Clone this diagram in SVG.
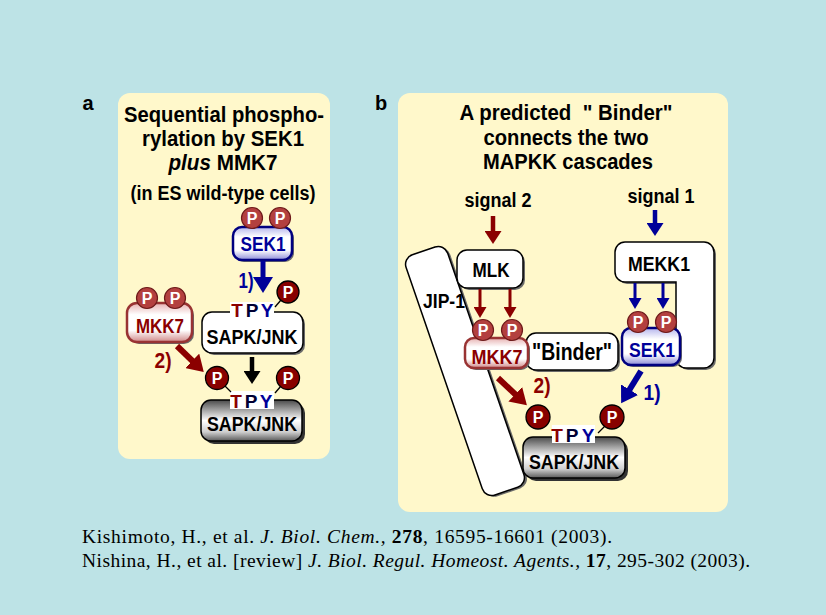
<svg xmlns="http://www.w3.org/2000/svg" width="826" height="615" viewBox="0 0 826 615">
<style>
.t{font-family:"Liberation Sans",Arial,sans-serif;font-weight:bold;text-anchor:middle}
.ttl{font-size:21.5px;fill:#000}
.lbl{font-size:21px}
.cit{font-family:"Liberation Serif","Times New Roman",serif;font-size:19.5px;fill:#000}
.panel{fill:#FFF8CB}
.wbox{fill:#fff;stroke:#000;stroke-width:1.5}
.shd{fill:#6a6a6a}
.pl{fill:#B3403F;stroke:#6e1a1a;stroke-width:1.2}
.pd{fill:#880000;stroke:#000;stroke-width:1.3}
.pt{font-family:"Liberation Sans",Arial,sans-serif;font-weight:bold;font-size:16px;fill:#fff;text-anchor:middle}
.tpy{font-family:"Liberation Sans",Arial,sans-serif;font-weight:bold;font-size:19px;text-anchor:middle}
.red{fill:#8B0000}
.blu{fill:#000099}
.ar{fill:none;stroke:#8B0000}
.ab{fill:none;stroke:#000099}
.ak{fill:none;stroke:#000}
.lnk{stroke:#000;stroke-width:1.3}
</style>
<defs>
<linearGradient id="gGray" x1="0" y1="0" x2="0" y2="1">
<stop offset="0" stop-color="#4a4a4a"/><stop offset="0.22" stop-color="#9a9a9a"/><stop offset="0.5" stop-color="#ffffff"/><stop offset="0.78" stop-color="#cfcfcf"/><stop offset="1" stop-color="#5a5a5a"/>
</linearGradient>
<linearGradient id="gBlue" x1="0" y1="0" x2="0" y2="1">
<stop offset="0" stop-color="#b4b4ec"/><stop offset="0.3" stop-color="#ffffff"/><stop offset="0.7" stop-color="#ffffff"/><stop offset="1" stop-color="#8c8cd8"/>
</linearGradient>
<linearGradient id="gRed" x1="0" y1="0" x2="0" y2="1">
<stop offset="0" stop-color="#e6b0b0"/><stop offset="0.3" stop-color="#ffffff"/><stop offset="0.7" stop-color="#ffffff"/><stop offset="1" stop-color="#d08888"/>
</linearGradient>
<marker id="mbR" markerUnits="userSpaceOnUse" markerWidth="16" markerHeight="20" refX="1" refY="10" orient="auto" viewBox="0 0 16 20"><path d="M0,0 L16,10 L0,20 z" fill="#8B0000"/></marker>
<marker id="mbB" markerUnits="userSpaceOnUse" markerWidth="16" markerHeight="20" refX="1" refY="10" orient="auto" viewBox="0 0 16 20"><path d="M0,0 L16,10 L0,20 z" fill="#000099"/></marker>
<marker id="mmK" markerUnits="userSpaceOnUse" markerWidth="13" markerHeight="17" refX="1" refY="8.5" orient="auto" viewBox="0 0 13 17"><path d="M0,0 L13,8.5 L0,17 z" fill="#000"/></marker>
<marker id="mmR" markerUnits="userSpaceOnUse" markerWidth="13" markerHeight="17" refX="1" refY="8.5" orient="auto" viewBox="0 0 13 17"><path d="M0,0 L13,8.5 L0,17 z" fill="#8B0000"/></marker>
<marker id="mmB" markerUnits="userSpaceOnUse" markerWidth="13" markerHeight="17" refX="1" refY="8.5" orient="auto" viewBox="0 0 13 17"><path d="M0,0 L13,8.5 L0,17 z" fill="#000099"/></marker>
<marker id="msR" markerUnits="userSpaceOnUse" markerWidth="11" markerHeight="13" refX="1" refY="6.5" orient="auto" viewBox="0 0 11 13"><path d="M0,0 L11,6.5 L0,13 z" fill="#8B0000"/></marker>
<marker id="msB" markerUnits="userSpaceOnUse" markerWidth="11" markerHeight="13" refX="1" refY="6.5" orient="auto" viewBox="0 0 11 13"><path d="M0,0 L11,6.5 L0,13 z" fill="#000099"/></marker>
</defs>

<rect width="826" height="615" fill="#BDE3E6"/>

<!-- Panel a -->
<g id="panel-a">
<rect class="panel" x="118" y="93" width="212" height="366" rx="12"/>
<text class="t" x="88" y="110" font-size="20">a</text>
<text class="t ttl" x="224" y="122" textLength="200" lengthAdjust="spacingAndGlyphs">Sequential phospho-</text>
<text class="t ttl" x="223" y="146" textLength="162" lengthAdjust="spacingAndGlyphs">rylation by SEK1</text>
<text class="t ttl" x="223" y="170" textLength="109" lengthAdjust="spacingAndGlyphs"><tspan font-style="italic">plus</tspan> MMK7</text>
<text class="t" x="223" y="200" font-size="20" textLength="185" lengthAdjust="spacingAndGlyphs">(in ES wild-type cells)</text>
</g>

<g id="a-SEK1">
<rect class="shd" x="235" y="229" width="59" height="33" rx="9"/>
<rect x="233" y="227" width="59" height="33" rx="9" fill="url(#gBlue)" stroke="#000080" stroke-width="2.5"/>
<circle class="pl" cx="252" cy="218" r="10.5"/><text class="pt" x="252" y="223.5">P</text>
<circle class="pl" cx="280" cy="218" r="10.5"/><text class="pt" x="280" y="223.5">P</text>
<text class="t lbl blu" x="263" y="251" textLength="45" lengthAdjust="spacingAndGlyphs">SEK1</text>
</g>

<g id="a-MKK7">
<rect class="shd" x="129" y="305" width="65" height="39" rx="10"/>
<rect x="127" y="303" width="65" height="39" rx="10" fill="url(#gRed)" stroke="#993333" stroke-width="2.5"/>
<circle class="pl" cx="147" cy="298" r="10.5"/><text class="pt" x="147" y="303.5">P</text>
<circle class="pl" cx="175" cy="298" r="10.5"/><text class="pt" x="175" y="303.5">P</text>
<text class="t lbl red" x="160" y="333" textLength="48" lengthAdjust="spacingAndGlyphs">MKK7</text>
</g>

<g id="a-SAPK-JNK">
<rect class="shd" x="204" y="314" width="101" height="41" rx="10"/>
<rect class="wbox" x="202" y="312" width="101" height="41" rx="10"/>
<rect x="230" y="302" width="44" height="17" fill="#fff"/>
<text class="tpy" y="317"><tspan class="red" x="237">T</tspan><tspan fill="#000033" x="252">P</tspan><tspan class="blu" x="267">Y</tspan></text>
<text class="t lbl" x="252" y="344" textLength="91" lengthAdjust="spacingAndGlyphs">SAPK/JNK</text>
<circle class="pd" cx="288" cy="292" r="11"/><text class="pt" x="288" y="297.5">P</text>
</g>

<g id="a-SAPK-JNK-P">
<rect x="204" y="403" width="101" height="41" rx="10" fill="#333"/>
<rect x="201" y="400" width="101" height="41" rx="10" fill="url(#gGray)" stroke="#000" stroke-width="1.5"/>
<rect x="230" y="391" width="44" height="18" fill="#fff"/>
<text class="tpy" y="408"><tspan class="red" x="236">T</tspan><tspan fill="#000033" x="251">P</tspan><tspan class="blu" x="266">Y</tspan></text>
<text class="t lbl" x="252" y="431" textLength="90" lengthAdjust="spacingAndGlyphs">SAPK/JNK</text>
<circle class="pd" cx="217" cy="378" r="11.5"/><text class="pt" x="217" y="383.5">P</text>
<circle class="pd" cx="288" cy="378" r="11.5"/><text class="pt" x="288" y="383.5">P</text>
</g>

<!-- Panel b -->
<g id="panel-b">
<rect class="panel" x="398" y="93" width="330" height="419" rx="12"/>
<text class="t" x="381" y="110" font-size="20">b</text>
<text class="t ttl" x="566" y="120" textLength="213" lengthAdjust="spacingAndGlyphs" style="white-space:pre">A predicted  " Binder"</text>
<text class="t ttl" x="566" y="145" textLength="165" lengthAdjust="spacingAndGlyphs">connects the two</text>
<text class="t ttl" x="568" y="169" textLength="170" lengthAdjust="spacingAndGlyphs">MAPKK cascades</text>
<text class="t" x="498" y="207" font-size="20" textLength="67" lengthAdjust="spacingAndGlyphs">signal 2</text>
<text class="t" x="661" y="203" font-size="20" textLength="67" lengthAdjust="spacingAndGlyphs">signal 1</text>
</g>

<g id="b-JIP-1">
<g transform="translate(465,371) rotate(-19)">
<rect class="shd" x="-20" y="-125" width="44" height="254" rx="10"/>
<rect class="wbox" x="-22" y="-127" width="44" height="254" rx="10"/>
</g>
<text class="t lbl" x="444" y="308" textLength="42" lengthAdjust="spacingAndGlyphs">JIP-1</text>
</g>

<g id="b-MLK">
<rect class="shd" x="459" y="252" width="66" height="38" rx="10"/>
<rect class="wbox" x="457" y="250" width="66" height="38" rx="10"/>
<text class="t lbl" x="491" y="277" textLength="37" lengthAdjust="spacingAndGlyphs">MLK</text>
</g>

<g id="b-MEKK1">
<path class="shd" transform="translate(2,2)" d="M625,242 H704 A10,10 0 0 1 714,252 V358 A10,10 0 0 1 704,368 H686 A10,10 0 0 1 676,358 V282 H625 A10,10 0 0 1 615,272 V252 A10,10 0 0 1 625,242 Z"/>
<path class="wbox" d="M625,242 H704 A10,10 0 0 1 714,252 V358 A10,10 0 0 1 704,368 H686 A10,10 0 0 1 676,358 V282 H625 A10,10 0 0 1 615,272 V252 A10,10 0 0 1 625,242 Z"/>
<text class="t lbl" x="659" y="271" textLength="62" lengthAdjust="spacingAndGlyphs">MEKK1</text>
</g>

<g id="b-Binder">
<rect class="shd" x="528" y="335" width="92" height="37" rx="10"/>
<rect class="wbox" x="526" y="333" width="92" height="37" rx="10"/>
<text class="t" x="572" y="360" font-size="24" textLength="80" lengthAdjust="spacingAndGlyphs">"Binder"</text>
</g>

<g id="b-MKK7">
<rect class="shd" x="467" y="340" width="63" height="30" rx="9"/>
<rect x="465" y="338" width="63" height="30" rx="9" fill="url(#gRed)" stroke="#993333" stroke-width="2.5"/>
<circle class="pl" cx="483" cy="330" r="10.5"/><text class="pt" x="483" y="335.5">P</text>
<circle class="pl" cx="512" cy="330" r="10.5"/><text class="pt" x="512" y="335.5">P</text>
<text class="t lbl red" x="497" y="364" textLength="51" lengthAdjust="spacingAndGlyphs">MKK7</text>
</g>

<g id="b-SEK1">
<rect class="shd" x="624" y="330" width="58" height="37" rx="9"/>
<rect x="622" y="328" width="58" height="37" rx="9" fill="url(#gBlue)" stroke="#000080" stroke-width="2.5"/>
<circle class="pl" cx="638" cy="322" r="10.5"/><text class="pt" x="638" y="327.5">P</text>
<circle class="pl" cx="666" cy="322" r="10.5"/><text class="pt" x="666" y="327.5">P</text>
<text class="t lbl blu" x="652" y="357" textLength="46" lengthAdjust="spacingAndGlyphs">SEK1</text>
</g>

<g id="b-SAPK-JNK-P">
<rect x="526" y="440" width="102" height="41" rx="10" fill="#333"/>
<rect x="523" y="437" width="102" height="41" rx="10" fill="url(#gGray)" stroke="#000" stroke-width="1.5"/>
<rect x="552" y="425" width="43" height="18" fill="#fff"/>
<text class="tpy" y="442"><tspan class="red" x="557">T</tspan><tspan fill="#000033" x="572">P</tspan><tspan class="blu" x="588">Y</tspan></text>
<text class="t lbl" x="574" y="469" textLength="90" lengthAdjust="spacingAndGlyphs">SAPK/JNK</text>
<circle class="pd" cx="538" cy="417" r="12"/><text class="pt" x="538" y="422.5">P</text>
<circle class="pd" cx="612" cy="417" r="12"/><text class="pt" x="612" y="422.5">P</text>
</g>

<g id="connectors">
<!-- panel a -->
<line class="ab" x1="263" y1="261" x2="263" y2="278" stroke-width="5" marker-end="url(#mbB)"/>
<line class="ak" x1="252" y1="357" x2="252" y2="372" stroke-width="4.5" marker-end="url(#mmK)"/>
<line class="ar" x1="177" y1="346" x2="193" y2="361.5" stroke-width="6" marker-end="url(#mbR)"/>
<line class="lnk" x1="281" y1="300" x2="275" y2="307"/>
<line class="lnk" x1="281" y1="386" x2="275" y2="393"/>
<line class="lnk" x1="225" y1="386" x2="231" y2="392"/>
<!-- panel b -->
<line class="ar" x1="493" y1="216" x2="493" y2="232" stroke-width="4.5" marker-end="url(#mmR)"/>
<line class="ab" x1="655" y1="210" x2="655" y2="224" stroke-width="4.5" marker-end="url(#mmB)"/>
<line class="ar" x1="480" y1="289" x2="480" y2="308" stroke-width="3" marker-end="url(#msR)"/>
<line class="ar" x1="510" y1="289" x2="510" y2="308" stroke-width="3" marker-end="url(#msR)"/>
<line class="ab" x1="635" y1="283" x2="635" y2="299" stroke-width="3" marker-end="url(#msB)"/>
<line class="ab" x1="663" y1="283" x2="663" y2="299" stroke-width="3" marker-end="url(#msB)"/>
<line class="ar" x1="498" y1="378" x2="516" y2="395" stroke-width="6" marker-end="url(#mbR)"/>
<line class="ab" x1="641" y1="371" x2="629" y2="390.5" stroke-width="6" marker-end="url(#mbB)"/>
<line class="lnk" x1="605" y1="426" x2="598" y2="433"/>
</g>

<g id="step-labels">
<text class="t blu" x="246" y="288" font-size="22" textLength="15" lengthAdjust="spacingAndGlyphs">1)</text>
<text class="t red" x="163" y="368" font-size="22" textLength="17" lengthAdjust="spacingAndGlyphs">2)</text>
<text class="t red" x="542" y="393" font-size="22" textLength="17" lengthAdjust="spacingAndGlyphs">2)</text>
<text class="t blu" x="652" y="400" font-size="22" textLength="17" lengthAdjust="spacingAndGlyphs">1)</text>
</g>

<g id="citations">
<text class="cit" x="82" y="543" textLength="530">Kishimoto, H., et al. <tspan font-style="italic">J. Biol. Chem.,</tspan> <tspan font-weight="bold">278</tspan>, 16595-16601 (2003).</text>
<text class="cit" x="82" y="567" textLength="668">Nishina, H., et al. [review] <tspan font-style="italic">J. Biol. Regul. Homeost. Agents.,</tspan> <tspan font-weight="bold">17</tspan>, 295-302 (2003).</text>
</g>
</svg>
